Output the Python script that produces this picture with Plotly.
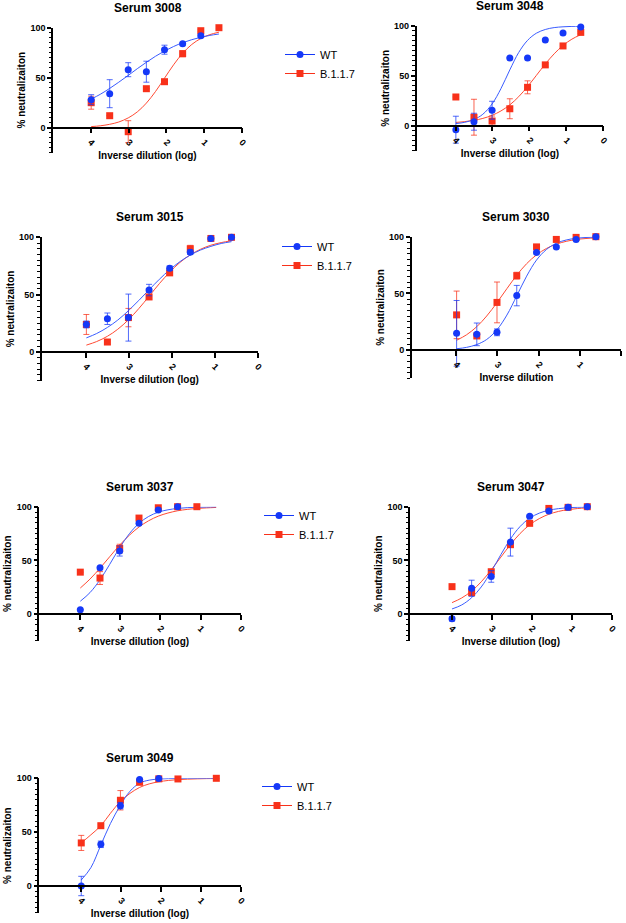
import plotly.graph_objects as go

# log10 of the inverse dilution for each well, and the grid the fitted curves are drawn on
x_log = [3.99, 3.50, 3.01, 2.53, 2.05, 1.57, 1.09, 0.61]
x_fit = [3.99, 3.75, 3.50, 3.26, 3.01, 2.77, 2.53, 2.29, 2.05, 1.81, 1.57, 1.33, 1.09, 0.85, 0.61]

sera = ["3008", "3048", "3015", "3030", "3037", "3047", "3049"]

# % neutralization, mean and error (WT)
wt_mean = {
    "3008": [28, 34, 58, 56, 78, 84, 92, None],
    "3048": [-4, 4, 15.5, 68, 68, 86, 93, 99],
    "3015": [24, 29, 30, 54, 73, 87, 99, 100],
    "3030": [14.7, 13.8, 15.6, 48, 86, 91, 97.6, 100],
    "3037": [4, 43, 58.7, 84.5, 97, 100, None, None],
    "3047": [-4.5, 24, 35, 67, 91, 96, 99.4, 100],
    "3049": [0, 38.7, 74.6, 99, 99.7, None, None, None],
}
wt_err = {
    "3008": [5, 14, 7, 10.5, 4.5, 1.5, 1.5, 0],
    "3048": [13.5, 8.5, 9, 0, 0, 0, 0, 0],
    "3015": [3, 5, 20.5, 5, 2, 2, 1, 0],
    "3030": [29, 10, 3, 9, 1, 1, 1, 0],
    "3037": [0, 0, 4.7, 1.5, 1, 0, 0, 0],
    "3047": [2, 7.5, 5.4, 13, 1, 1, 0.5, 0],
    "3049": [9, 3, 3, 1, 0, 0, 0, 0],
}

# % neutralization, mean and error (B.1.1.7)
b117_mean = {
    "3008": [25, 12, -4, 39, 46, 74, 97, 100],
    "3048": [28.8, 8.5, 4.7, 17, 38.5, 61, 80, 93.6],
    "3015": [24, 8.7, 30, 48, 69, 90, 99, 100],
    "3030": [31, 12.4, 42, 65.6, 91, 97.6, 99.4, 100],
    "3037": [39, 33.5, 61, 89.4, 99, 100, 100, None],
    "3047": [25.5, 20, 39.4, 64.6, 84.5, 98.4, 99.4, 100],
    "3049": [40, 56, 79.6, 96.3, 99.5, 99.4, None, 100],
}
b117_err = {
    "3008": [6.5, 0, 11, 0, 0, 3, 1, 1],
    "3048": [0, 18, 5, 10, 6.5, 2, 1, 1],
    "3015": [8.7, 2, 8, 2, 1.5, 3, 1, 0],
    "3030": [21, 0, 18, 3, 1, 1, 0, 0],
    "3037": [0, 6, 4, 1, 0, 0, 0, 0],
    "3047": [0, 3, 2, 2, 2, 1, 0, 0],
    "3049": [7, 1.5, 9, 1, 0, 0, 0, 0],
}

# fitted curves at x_fit
wt_fit = {
    "3008": [28.6, 33.4, 39.3, 45.5, 52.3, 59.0, 65.4, 71.4, 76.7, 81.2, 85.0, 88.0, 90.4, 92.3, 93.7],
    "3048": [2.1, 3.4, 6.2, 11.5, 21.8, 37.2, 56.0, 73.4, 85.6, 92.8, 96.5, 98.4, 99.2, 99.6, 99.8],
    "3015": [12.3, 16.1, 21.4, 27.8, 36.0, 44.9, 54.2, 63.4, 71.7, 78.8, 84.5, 88.9, 92.1, 94.6, 96.2],
    "3030": [1.1, 2.3, 4.8, 9.3, 17.9, 30.8, 47.8, 65.2, 79.4, 88.7, 94.2, 97.1, 98.6, 99.3, 99.7],
    "3037": [11.9, 19.9, 31.9, 46.2, 61.8, 74.8, 84.5, 90.9, 94.9, 97.1, 98.4, 99.1, 99.5, 99.7, 99.9],
    "3047": [4.7, 8.4, 15.2, 25.2, 39.6, 55.3, 70.0, 81.5, 89.3, 94.0, 96.7, 98.2, 99.1, 99.5, 99.7],
    "3049": [5.6, 17, 38, 58, 75, 88, 95.5, 98.3, 99.3, 99.7, 99.9, 100, 100, 100, 100],
}
b117_fit = {
    "3008": [1.1, 1.9, 3.4, 5.7, 9.8, 15.8, 24.6, 36.1, 49.5, 62.9, 74.4, 83.2, 89.2, 93.1, 95.5],
    "3048": [3.3, 4.1, 5.4, 7.3, 10.4, 14.8, 20.9, 29.1, 39.2, 50.5, 61.9, 72.1, 80.5, 86.8, 91.3],
    "3015": [6.0, 9.1, 13.7, 19.8, 28.1, 37.8, 48.6, 59.6, 69.6, 78.1, 84.7, 89.6, 93.1, 95.4, 97.0],
    "3030": [8.6, 13.4, 20.6, 30.0, 41.8, 54.1, 66.0, 76.2, 84.0, 89.6, 93.4, 95.9, 97.5, 98.4, 99.0],
    "3037": [24.2, 32.5, 42.7, 53.3, 64.2, 73.4, 81.1, 86.9, 91.2, 94.1, 96.2, 97.5, 98.4, 98.9, 99.3],
    "3047": [10.6, 14.9, 21.4, 30.0, 41.1, 53.0, 64.7, 75.0, 83.1, 88.9, 93.0, 95.6, 97.3, 98.3, 99.0],
    "3049": [40, 47.5, 56, 67.5, 78.5, 86, 91.5, 94.8, 96.8, 98, 98.8, 99.2, 99.5, 99.7, 99.8],
}

x_titles = ["Inverse dilution (log)", "Inverse dilution (log)", "Inverse dilution (log)",
            "Inverse dilution", "Inverse dilution (log)", "Inverse dilution (log)",
            "Inverse dilution (log)"]

W, H = 626, 923
BLUE = "#1538f8"
RED = "#f8311a"
BLUE_LINE = "#3a5cff"
RED_LINE = "#ff4a33"
FONT = "Arial, Liberation Sans, sans-serif"


def px(v):
    return v / W


def py(v):
    return 1 - v / H


# page-pixel geometry of each panel: left, right, y=100, y=0, left end of x range, legend (x, y) or None
panels = [
    dict(l=53, r=242, top=27.7, zero=127.7, xmax=5.0, leg=(280, 40)),
    dict(l=416.7, r=603.3, top=26, zero=125.7, xmax=5.05, leg=None),
    dict(l=41.7, r=257.7, top=237.3, zero=352, xmax=5.03, leg=(277, 232)),
    dict(l=411.7, r=621, top=236.7, zero=350, xmax=5.08, leg=None),
    dict(l=39.3, r=240.7, top=506.7, zero=614, xmax=5.01, leg=(259, 501)),
    dict(l=410, r=611.7, top=506.7, zero=614, xmax=5.04, leg=None),
    dict(l=39.3, r=240.7, top=778.3, zero=886, xmax=5.04, leg=(257, 772)),
]

fig = go.Figure()
layout = {}
annotations = []

for i, (serum, p) in enumerate(zip(sera, panels)):
    n = "" if i == 0 else str(i + 1)
    xa, ya = "x" + n, "y" + n
    bottom = p["zero"] + 25 * (p["zero"] - p["top"]) / 100

    # fitted curves
    fig.add_trace(go.Scatter(x=x_fit, y=b117_fit[serum], mode="lines", xaxis=xa, yaxis=ya,
                             line=dict(color=RED_LINE, width=1, shape="spline"),
                             showlegend=False, hoverinfo="skip"))
    fig.add_trace(go.Scatter(x=x_fit, y=wt_fit[serum], mode="lines", xaxis=xa, yaxis=ya,
                             line=dict(color=BLUE_LINE, width=1, shape="spline"),
                             showlegend=False, hoverinfo="skip"))
    # points with error bars
    fig.add_trace(go.Scatter(x=x_log, y=b117_mean[serum], mode="markers", xaxis=xa, yaxis=ya,
                             marker=dict(symbol="square", size=7, color=RED),
                             error_y=dict(type="data", array=b117_err[serum], color="rgba(248,49,26,0.75)",
                                          thickness=1, width=3),
                             cliponaxis=False, showlegend=False))
    fig.add_trace(go.Scatter(x=x_log, y=wt_mean[serum], mode="markers", xaxis=xa, yaxis=ya,
                             marker=dict(symbol="circle", size=7, color=BLUE),
                             error_y=dict(type="data", array=wt_err[serum], color="rgba(21,56,248,0.75)",
                                          thickness=1, width=3),
                             cliponaxis=False, showlegend=False))

    if p["leg"]:
        lg = "legend" + ("" if i == 0 else str(i + 1))
        for name, col, sym in [("WT", BLUE, "circle"), ("B.1.1.7", RED, "square")]:
            fig.add_trace(go.Scatter(x=[None], y=[None], mode="lines+markers", name=name,
                                     xaxis=xa, yaxis=ya, legend=lg,
                                     line=dict(color=col, width=1),
                                     marker=dict(symbol=sym, size=7, color=col)))
        layout[lg] = dict(x=px(p["leg"][0]), y=py(p["leg"][1]), xanchor="left", yanchor="top",
                          font=dict(family=FONT, size=11, color="black"),
                          bgcolor="rgba(0,0,0,0)", itemwidth=30, tracegroupgap=0)

    layout["xaxis" + n] = dict(
        domain=[px(p["l"]), px(p["r"])], range=[p["xmax"], 0],
        anchor="free", position=py(p["zero"]), automargin=False,
        tickmode="array", tickvals=[4, 3, 2, 1, 0], ticktext=["4", "3", "2", "1", "0"],
        tickangle=45, ticks="outside", ticklen=5, tickwidth=1.5, tickcolor="black",
        showline=True, linecolor="black", linewidth=1.5, showgrid=False, zeroline=False,
        tickfont=dict(family=FONT, size=9, color="black", weight="bold"),
        title=dict(text=x_titles[i], font=dict(family=FONT, size=10, color="black", weight="bold"),
                   standoff=4),
    )
    layout["yaxis" + n] = dict(
        domain=[py(bottom), py(p["top"])], range=[-25, 100], anchor=xa, automargin=False,
        tickmode="array", tickvals=[0, 50, 100],
        ticks="outside", ticklen=4, tickwidth=1.5, tickcolor="black",
        minor=dict(tickmode="linear", tick0=0, dtick=5, ticks="outside", ticklen=2.5,
                   tickwidth=1, tickcolor="black"),
        showline=True, linecolor="black", linewidth=1.5, showgrid=False, zeroline=False,
        tickfont=dict(family=FONT, size=9, color="black", weight="bold"),
        title=dict(text="% neutralizaiton", font=dict(family=FONT, size=10, color="black", weight="bold"),
                   standoff=3),
    )
    annotations.append(dict(text="<b>Serum " + serum + "</b>", xref="paper", yref="paper",
                            x=px((p["l"] + p["r"]) / 2), y=py(p["top"] - 20),
                            xanchor="center", yanchor="middle", showarrow=False,
                            font=dict(family=FONT, size=12, color="black")))

fig.update_layout(
    width=W, height=H,
    margin=dict(l=0, r=0, t=0, b=0, autoexpand=False),
    paper_bgcolor="white", plot_bgcolor="white",
    annotations=annotations,
    font=dict(family=FONT, color="black"),
    **layout,
)

# drop the browser's default body margin so the figure sits at the page corner
fig.write_html("out.html", config={"displayModeBar": False},
               post_script="document.body.style.margin = '0';")
